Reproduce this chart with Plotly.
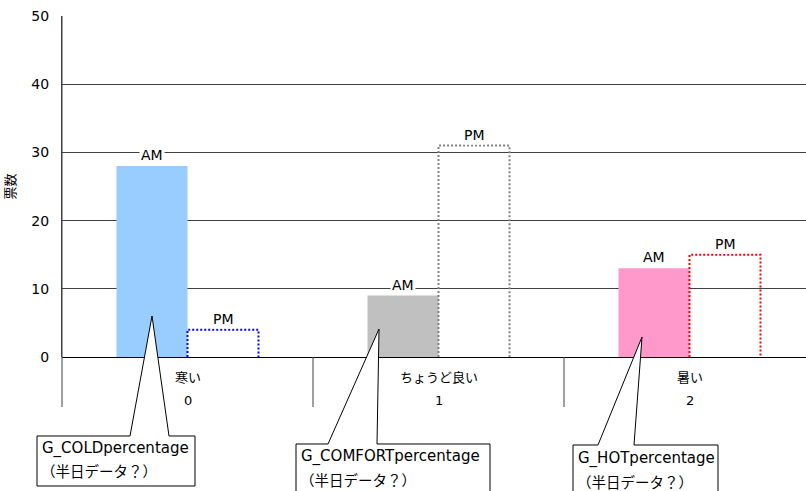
import plotly.graph_objects as go

# ---- data -------------------------------------------------------------
categories = ["寒い", "ちょうど良い", "暑い"]
category_index = [0, 1, 2]
am_votes = [28, 9, 13]
pm_votes = [4, 31, 15]
am_colors = ["#99CCFF", "#C0C0C0", "#FF99CC"]
pm_colors = ["#0000FF", "#808080", "#FF0000"]
callout_text = [
    ["G_COLDpercentage", "（半日データ？）"],
    ["G_COMFORTpercentage", "（半日データ？）"],
    ["G_HOTpercentage", "（半日データ？）"],
]
y_ticks = [0, 10, 20, 30, 40, 50]

# ---- layout geometry (pixels) ------------------------------------------
W, H = 806, 491
M_L, M_T, M_B = 62, 16, 134
PLOT_W = W - M_L
PLOT_H = H - M_T - M_B
UNIT_PX = 251                      # width of one category slot
X_RANGE = [-0.5, -0.5 + PLOT_W / UNIT_PX]
BAR_W = 71 / UNIT_PX

FONT = "DejaVu Sans, Noto Sans CJK JP, sans-serif"
JP_FONT = "Noto Sans CJK JP, DejaVu Sans, sans-serif"


def px_x(px):
    return (px - M_L) / PLOT_W


def px_y(py):
    return (M_T + PLOT_H - py) / PLOT_H


fig = go.Figure()

# morning bars (solid)
fig.add_trace(go.Bar(
    x=category_index, y=am_votes, width=BAR_W, offset=-BAR_W,
    marker=dict(color=am_colors, line=dict(width=0)),
    name="AM", showlegend=False,
))
# afternoon bars (hollow, outlined below)
fig.add_trace(go.Bar(
    x=category_index, y=pm_votes, width=BAR_W, offset=0,
    marker=dict(color="rgba(0,0,0,0)", line=dict(width=0)),
    name="PM", showlegend=False,
))
for i, v, c in zip(category_index, pm_votes, pm_colors):
    fig.add_trace(go.Scatter(
        x=[i, i, i + BAR_W, i + BAR_W], y=[0, v, v, 0],
        mode="lines", line=dict(color=c, width=2, dash="2px,2px"),
        showlegend=False, hoverinfo="skip",
    ))

annotations = []
# AM / PM labels above each bar
for i, a, p in zip(category_index, am_votes, pm_votes):
    annotations.append(dict(x=i - BAR_W / 2, y=a, xref="x", yref="y",
                            text="AM", showarrow=False, yshift=11,
                            bgcolor="white", borderpad=1,
                            font=dict(family=FONT, size=14, color="#000")))
    annotations.append(dict(x=i + BAR_W / 2, y=p, xref="x", yref="y",
                            text="PM", showarrow=False, yshift=11,
                            bgcolor="white", borderpad=1,
                            font=dict(family=FONT, size=14, color="#000")))

# two-row category labels
for i, name in zip(category_index, categories):
    annotations.append(dict(x=i, y=0, xref="x", yref="paper", text=name,
                            showarrow=False, yshift=-19, yanchor="middle",
                            font=dict(family=JP_FONT, size=13, color="#000")))
    annotations.append(dict(x=i, y=0, xref="x", yref="paper", text=str(i),
                            showarrow=False, yshift=-43, yanchor="middle",
                            font=dict(family=FONT, size=13, color="#000")))

shapes = []
# category divider lines below the axis
for d in [0.5, 1.5]:
    shapes.append(dict(type="line", xref="x", yref="paper", x0=d, x1=d,
                       y0=0, y1=px_y(407), line=dict(color="#404040", width=1)))
shapes.append(dict(type="line", xref="paper", yref="paper", x0=0, x1=0,
                   y0=1, y1=px_y(407), line=dict(color="#404040", width=1)))

# callout boxes with pointers
callout_geom = [
    # box left, top, right, bottom, base left, base right, tip x, tip y, text x, line1 y, line2 y
    (37, 436, 195, 486, 130, 169, 152, 316, 40, 448, 470),
    (296, 444, 490, 500, 328, 377, 379, 329, 299, 456, 479),
    (573, 445, 718, 500, 598, 634, 642, 337, 576, 458, 481),
]
for (bl, bt, br, bb, sl, sr, tx, ty, txt_x, l1, l2), lines in zip(callout_geom, callout_text):
    pts = [(bl, bt), (sl, bt), (tx, ty), (sr, bt), (br, bt), (br, bb), (bl, bb)]
    path = "M " + " L ".join(f"{px_x(x):.5f},{px_y(y):.5f}" for x, y in pts) + " Z"
    shapes.append(dict(type="path", xref="paper", yref="paper", path=path,
                       fillcolor="white", line=dict(color="black", width=1),
                       layer="above"))
    annotations.append(dict(x=px_x(txt_x), y=px_y(l1), xref="paper", yref="paper",
                            text=lines[0], showarrow=False, xanchor="left", yanchor="middle",
                            font=dict(family=FONT, size=15, color="#000")))
    annotations.append(dict(x=px_x(txt_x - 1), y=px_y(l2), xref="paper", yref="paper",
                            text=lines[1], showarrow=False, xanchor="left", yanchor="middle",
                            font=dict(family=JP_FONT, size=14.5, color="#000")))

fig.update_layout(
    width=W, height=H,
    margin=dict(l=M_L, r=0, t=M_T, b=M_B, pad=0),
    paper_bgcolor="white", plot_bgcolor="white",
    barmode="overlay",
    showlegend=False,
    font=dict(family=FONT, color="#000"),
    annotations=annotations,
    shapes=shapes,
    xaxis=dict(range=X_RANGE, showticklabels=False, showgrid=False,
               zeroline=False, showline=False, ticks=""),
    yaxis=dict(range=[0, 50], tickvals=y_ticks, showgrid=True,
               gridcolor="#404040", gridwidth=1,
               zeroline=True, zerolinecolor="#000", zerolinewidth=1,
               showline=True, linecolor="#404040", linewidth=1,
               ticks="", ticklabelstandoff=9,
               tickfont=dict(family=FONT, size=14, color="#000"),
               title=dict(text="票数", standoff=18,
                          font=dict(family=JP_FONT, size=13, color="#000"))),
)

fig.write_html("out.html")
